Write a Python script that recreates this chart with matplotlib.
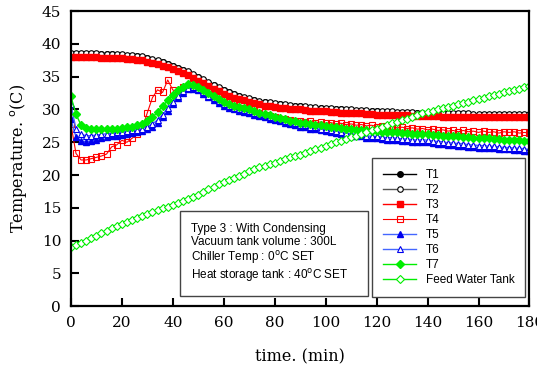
import numpy as np
import matplotlib.pyplot as plt
from matplotlib.patches import Rectangle

# time axis (min), one reading every 2 minutes
time = np.arange(0, 181, 2)

t1 = [38.5, 38.5, 38.5, 38.5, 38.5, 38.5, 38.4, 38.4, 38.4, 38.3,
      38.3, 38.2, 38.2, 38.1, 38.0, 37.8, 37.6, 37.4, 37.2, 36.9,
      36.6, 36.3, 36.0, 35.7, 35.3, 34.9, 34.5, 34.1, 33.7, 33.3,
      32.9, 32.6, 32.3, 32.0, 31.8, 31.6, 31.4, 31.2, 31.1, 31.0,
      30.9, 30.8, 30.7, 30.6, 30.5, 30.5, 30.4, 30.3, 30.3, 30.2,
      30.1, 30.1, 30.0, 30.0, 29.9, 29.9, 29.8, 29.8, 29.8, 29.7,
      29.7, 29.6, 29.6, 29.6, 29.5, 29.5, 29.5, 29.5, 29.4, 29.4,
      29.4, 29.4, 29.3, 29.3, 29.3, 29.3, 29.3, 29.3, 29.3, 29.2,
      29.2, 29.2, 29.2, 29.2, 29.2, 29.2, 29.2, 29.2, 29.2, 29.2,
      29.2]
t2 = [38.6, 38.6, 38.6, 38.6, 38.6, 38.6, 38.5, 38.5, 38.5, 38.4,
      38.4, 38.3, 38.3, 38.2, 38.1, 37.9, 37.7, 37.5, 37.3, 37.0,
      36.7, 36.4, 36.1, 35.8, 35.4, 35.0, 34.6, 34.2, 33.8, 33.4,
      33.0, 32.7, 32.4, 32.1, 31.9, 31.7, 31.5, 31.3, 31.2, 31.1,
      31.0, 30.9, 30.8, 30.7, 30.6, 30.6, 30.5, 30.4, 30.4, 30.3,
      30.2, 30.2, 30.1, 30.1, 30.0, 30.0, 29.9, 29.9, 29.9, 29.8,
      29.8, 29.7, 29.7, 29.7, 29.6, 29.6, 29.6, 29.6, 29.5, 29.5,
      29.5, 29.5, 29.4, 29.4, 29.4, 29.4, 29.4, 29.4, 29.4, 29.3,
      29.3, 29.3, 29.3, 29.3, 29.3, 29.3, 29.3, 29.3, 29.3, 29.3,
      29.3]
t3 = [38.0, 38.0, 38.0, 38.0, 38.0, 38.0, 37.9, 37.9, 37.9, 37.8,
      37.8, 37.7, 37.7, 37.6, 37.5, 37.3, 37.1, 36.9, 36.7, 36.5,
      36.2, 35.9, 35.6, 35.2, 34.8, 34.4, 34.0, 33.6, 33.2, 32.8,
      32.4, 32.1, 31.8, 31.6, 31.4, 31.2, 31.0, 30.8, 30.6, 30.5,
      30.4, 30.3, 30.2, 30.1, 30.0, 30.0, 29.9, 29.8, 29.8, 29.7,
      29.7, 29.6, 29.6, 29.5, 29.5, 29.4, 29.4, 29.4, 29.3, 29.3,
      29.2, 29.2, 29.2, 29.1, 29.1, 29.1, 29.1, 29.0, 29.0, 29.0,
      29.0, 29.0, 29.0, 28.9, 28.9, 28.9, 28.9, 28.9, 28.9, 28.9,
      28.9, 28.9, 28.9, 28.9, 28.9, 28.9, 28.9, 28.9, 28.9, 28.9,
      28.9]
t4 = [27.8, 23.3, 22.3, 22.3, 22.5, 22.7, 22.9, 23.2, 24.3, 24.6,
      25.3, 25.0, 25.6, 26.2, 27.2, 29.5, 31.8, 33.0, 32.6, 34.5,
      33.0, 32.5, 33.4, 33.6, 33.5, 33.2, 32.8, 32.4, 31.9, 31.5,
      31.1, 30.8, 30.5, 30.3, 30.1, 29.9, 29.7, 29.4, 29.2, 29.0,
      28.8, 28.6, 28.5, 28.4, 28.3, 28.2, 28.1, 28.2, 28.0, 28.1,
      27.9, 28.0, 27.8, 27.9, 27.7, 27.8, 27.6, 27.7, 27.5, 27.6,
      27.4, 27.5, 27.3, 27.4, 27.2, 27.3, 27.1, 27.2, 27.0, 27.1,
      26.9, 27.0, 26.8, 26.9, 26.7, 26.8, 26.6, 26.8, 26.6, 26.7,
      26.5, 26.7, 26.5, 26.6, 26.4, 26.6, 26.5, 26.6, 26.4, 26.5,
      26.4]
t5 = [28.5, 25.8, 25.2, 25.1, 25.2, 25.4, 25.6, 25.8, 25.9, 26.0,
      26.1, 26.2, 26.4, 26.5, 26.7, 27.0, 27.4, 28.0, 28.8, 29.8,
      30.8, 31.7, 32.5, 33.1, 33.2, 32.9, 32.4, 31.9, 31.4, 31.0,
      30.6, 30.3, 30.0, 29.8, 29.6, 29.4, 29.2, 29.0, 28.8, 28.6,
      28.4, 28.2, 28.0, 27.8, 27.6, 27.4, 27.3, 27.1, 27.0, 26.8,
      26.7, 26.6, 26.4, 26.2, 26.1, 26.0, 25.9, 25.9, 25.7, 25.6,
      25.6, 25.5, 25.4, 25.4, 25.3, 25.2, 25.2, 25.1, 25.0, 25.1,
      25.0, 24.9, 24.8, 24.8, 24.6, 24.6, 24.5, 24.5, 24.3, 24.3,
      24.2, 24.2, 24.1, 24.1, 24.0, 23.9, 23.9, 23.8, 23.8, 23.7,
      23.6]
t6 = [30.8, 27.0, 26.2, 26.0, 26.0, 26.1, 26.2, 26.3, 26.4, 26.5,
      26.6, 26.7, 26.8, 26.9, 27.1, 27.4, 27.8, 28.4, 29.2, 30.2,
      31.2, 32.1, 32.8, 33.3, 33.4, 33.1, 32.6, 32.1, 31.7, 31.3,
      30.9, 30.6, 30.3, 30.1, 29.9, 29.7, 29.5, 29.3, 29.1, 28.9,
      28.7, 28.5, 28.3, 28.1, 27.9, 27.7, 27.6, 27.4, 27.3, 27.1,
      27.0, 26.9, 26.7, 26.5, 26.4, 26.3, 26.2, 26.2, 26.0, 25.9,
      25.9, 25.8, 25.7, 25.7, 25.6, 25.5, 25.5, 25.4, 25.3, 25.4,
      25.3, 25.2, 25.1, 25.1, 24.9, 24.9, 24.8, 24.8, 24.6, 24.6,
      24.5, 24.5, 24.4, 24.4, 24.3, 24.2, 24.2, 24.1, 24.1, 24.0,
      23.9]
t7 = [32.0, 29.3, 27.6, 27.2, 27.0, 27.0, 27.0, 27.0, 27.1, 27.1,
      27.2, 27.3, 27.4, 27.6, 27.8, 28.2, 28.8, 29.6, 30.5, 31.4,
      32.2, 32.9, 33.5, 33.9, 33.8, 33.4, 33.0, 32.5, 32.0, 31.6,
      31.2, 30.9, 30.6, 30.4, 30.2, 30.0, 29.8, 29.5, 29.3, 29.1,
      28.9, 28.7, 28.5, 28.3, 28.2, 28.0, 27.9, 27.8, 27.7, 27.6,
      27.5, 27.4, 27.3, 27.2, 27.1, 27.0, 26.9, 26.9, 26.8, 26.7,
      26.7, 26.6, 26.6, 26.5, 26.5, 26.4, 26.4, 26.3, 26.3, 26.2,
      26.2, 26.1, 26.1, 26.0, 26.0, 25.9, 25.9, 25.8, 25.8, 25.7,
      25.7, 25.6, 25.6, 25.5, 25.5, 25.4, 25.4, 25.3, 25.3, 25.2,
      25.2]
feed = [9.0, 9.4, 9.7, 10.0, 10.4, 10.7, 11.1, 11.5, 11.9, 12.3,
        12.6, 12.9, 13.1, 13.4, 13.7, 14.0, 14.3, 14.6, 14.9, 15.2,
        15.5, 15.8, 16.1, 16.4, 16.7, 17.0, 17.4, 17.8, 18.2, 18.6,
        18.9, 19.2, 19.6, 19.9, 20.2, 20.6, 20.9, 21.2, 21.4, 21.7,
        21.9, 22.2, 22.4, 22.7, 22.9, 23.1, 23.4, 23.7, 23.9, 24.2,
        24.4, 24.7, 25.0, 25.2, 25.5, 25.8, 26.0, 26.3, 26.6, 26.8,
        27.1, 27.3, 27.6, 27.9, 28.1, 28.4, 28.6, 28.9, 29.1, 29.4,
        29.6, 29.8, 30.0, 30.2, 30.4, 30.6, 30.8, 31.0, 31.2, 31.4,
        31.6, 31.8, 32.0, 32.2, 32.4, 32.6, 32.8, 33.0, 33.2, 33.4,
        33.6]

info_lines = ['Type 3 : With Condensing',
              'Vacuum tank volume : 300L',
              'Chiller Temp : 0$^{\\mathrm{o}}$C SET',
              'Heat storage tank : 40$^{\\mathrm{o}}$C SET']

green = '#00ee00'
blue = '#0000ee'
light_blue = '#4466ff'

fig = plt.figure(figsize=(5.37, 3.72), dpi=100)
ax = fig.add_axes([0.132, 0.177, 0.854, 0.793])

ax.plot(time, t1, color='black', lw=1, marker='o', ms=4, mfc='black', mec='black', label='T1')
ax.plot(time, t2, color='#555555', lw=1, marker='o', ms=4, mfc='white', mec='black', mew=0.8, label='T2')
ax.plot(time, t3, color='red', lw=1, marker='s', ms=4.5, mfc='red', mec='red', label='T3')
ax.plot(time, t4, color='red', lw=0.8, marker='s', ms=5, mfc='none', mec='red', mew=0.8, label='T4')
ax.plot(time, t5, color=light_blue, lw=1, marker='^', ms=4.5, mfc=blue, mec=blue, label='T5')
ax.plot(time, t6, color=light_blue, lw=1, marker='^', ms=4.5, mfc='white', mec=blue, mew=0.8, label='T6')
ax.plot(time, t7, color=green, lw=1, marker='D', ms=4, mfc=green, mec=green, label='T7')
ax.plot(time, feed, color=green, lw=1, marker='D', ms=3.6, mfc='white', mec=green, mew=0.8, label='Feed Water Tank')

ax.set_xlim(0, 180)
ax.set_ylim(0, 45)
ax.set_xticks(np.arange(0, 181, 20))
ax.set_yticks(np.arange(0, 46, 5))
ax.tick_params(direction='in', length=6, width=1.5, labelsize=11, pad=7)
for lbl in ax.get_xticklabels() + ax.get_yticklabels():
    lbl.set_fontfamily('DejaVu Serif')
for s in ax.spines.values():
    s.set_linewidth(1.6)

ax.set_xlabel('time. (min)', fontfamily='DejaVu Serif', fontsize=11.5, labelpad=13)
ax.set_ylabel('Temperature. $^{\\mathrm{o}}$(C)', fontfamily='DejaVu Serif', fontsize=11.5, labelpad=9)

leg = ax.legend(loc='lower right', bbox_to_anchor=(0.990, 0.031), borderaxespad=0,
                prop={'family': 'Liberation Sans', 'size': 8.5}, handlelength=2.8,
                labelspacing=0.26, fancybox=False, framealpha=1, borderpad=0.9)
leg.get_frame().set_edgecolor('#444444')
leg.get_frame().set_linewidth(1)

ax.add_patch(Rectangle((0.238, 0.034), 0.41, 0.288, transform=ax.transAxes,
                       facecolor='white', edgecolor='#444444', lw=1, zorder=5))
ax.text(0.262, 0.282, '\n'.join(info_lines), transform=ax.transAxes, va='top', ha='left',
        fontfamily='Liberation Sans', fontsize=8.5, linespacing=1.1, zorder=6)

fig.savefig('out.png', dpi=100)
